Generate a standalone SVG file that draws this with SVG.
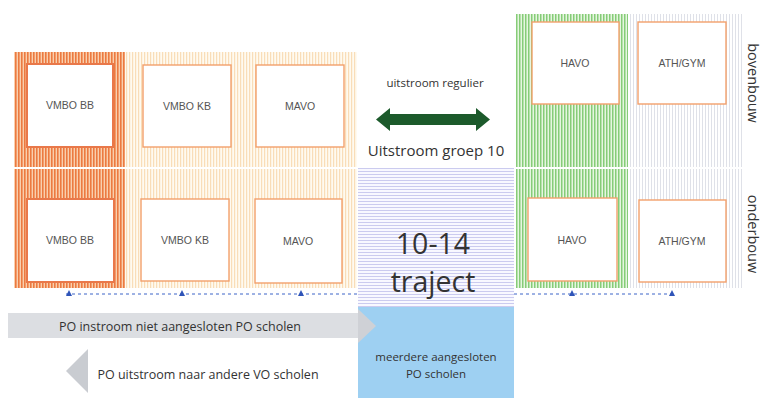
<svg xmlns="http://www.w3.org/2000/svg" width="764" height="398" viewBox="0 0 764 398">
<defs>
<pattern id="pDO" width="3" height="3" patternUnits="userSpaceOnUse"><rect width="3" height="3" fill="#f9cfae"/><rect width="1.6" height="3" fill="#ec7a40"/></pattern>
<pattern id="pLO" width="3" height="3" patternUnits="userSpaceOnUse"><rect width="3" height="3" fill="#fffaf0"/><rect width="1.2" height="3" fill="#f9ddb8"/></pattern>
<pattern id="pG" width="3" height="3" patternUnits="userSpaceOnUse"><rect width="3" height="3" fill="#e6f6e0"/><rect width="1.5" height="3" fill="#86cc78"/></pattern>
<pattern id="pGr" width="3" height="3" patternUnits="userSpaceOnUse"><rect width="3" height="3" fill="#ffffff"/><rect width="1" height="3" fill="#dfe1e8"/></pattern>
<pattern id="pB" width="3" height="3" patternUnits="userSpaceOnUse"><rect width="3" height="3" fill="#f8f8ff"/><rect width="3" height="1" fill="#cbcbef"/></pattern>
</defs>
<style>
.box{fill:#fff;stroke:#f2a06c;stroke-width:1.4}
.boxd{fill:#fff;stroke:#e9784a;stroke-width:2}
.lbl{font-family:"Liberation Sans",Arial,sans-serif;font-size:10.5px;fill:#555;text-anchor:middle}
.t{font-family:"Open Sans",sans-serif;fill:#333;text-anchor:middle}
.side{font-family:"Open Sans",sans-serif;font-size:14.5px;fill:#333;text-anchor:middle}
</style>
<rect width="764" height="398" fill="#fff"/>

<g id="bands">
<rect x="14" y="52" width="111" height="236" fill="url(#pDO)"/>
<rect x="125" y="52" width="232" height="236" fill="url(#pLO)"/>
<rect x="516" y="14" width="112" height="274" fill="url(#pG)"/>
<rect x="628" y="14" width="115" height="274" fill="url(#pGr)"/>
<rect x="14" y="167" width="343" height="2" fill="#fff"/>
<rect x="516" y="167" width="227" height="2" fill="#fff"/>
</g>

<g id="traject">
<rect x="358" y="168" width="156" height="139" fill="url(#pB)"/>
<text class="t" x="433" y="254" font-size="28.5">10-14</text>
<text class="t" x="433" y="292" font-size="28.5">traject</text>
</g>

<g id="aangesloten">
<rect x="358" y="307" width="156" height="91" fill="#9ed0f2"/>
<text class="t" x="436" y="361" font-size="11.5">meerdere aangesloten</text>
<text class="t" x="436" y="378" font-size="11.5">PO scholen</text>
</g>

<g id="vmbo-bb-boven"><rect class="boxd" x="27" y="64" width="86" height="83"/><text class="lbl" x="70" y="109">VMBO BB</text></g>
<g id="vmbo-kb-boven"><rect class="box" x="143" y="65" width="88" height="82"/><text class="lbl" x="187" y="110">VMBO KB</text></g>
<g id="mavo-boven"><rect class="box" x="256" y="65" width="88" height="82"/><text class="lbl" x="300" y="110">MAVO</text></g>
<g id="vmbo-bb-onder"><rect class="boxd" x="27" y="199" width="87" height="83"/><text class="lbl" x="70" y="244">VMBO BB</text></g>
<g id="vmbo-kb-onder"><rect class="box" x="141" y="199" width="88" height="82"/><text class="lbl" x="185" y="244">VMBO KB</text></g>
<g id="mavo-onder"><rect class="box" x="255" y="199" width="87" height="84"/><text class="lbl" x="298" y="245">MAVO</text></g>
<g id="havo-boven"><rect class="box" x="532" y="22" width="87" height="82"/><text class="lbl" x="575" y="67">HAVO</text></g>
<g id="ath-boven"><rect class="box" x="638" y="22" width="88" height="82"/><text class="lbl" x="682" y="67">ATH/GYM</text></g>
<g id="havo-onder"><rect class="box" x="528" y="198" width="89" height="83"/><text class="lbl" x="572" y="244">HAVO</text></g>
<g id="ath-onder"><rect class="box" x="639" y="200" width="87" height="82"/><text class="lbl" x="682" y="245">ATH/GYM</text></g>

<g id="labels">
<text class="t" x="435" y="87" font-size="11.5">uitstroom regulier</text>
<text class="t" x="436" y="156" font-size="15">Uitstroom groep 10</text>
<text class="side" transform="translate(748,83) rotate(90)">bovenbouw</text>
<text class="side" transform="translate(748,234) rotate(90)">onderbouw</text>
</g>

<g id="connectors">
<path d="M376,119.5 L390,108 L390,114 L476,114 L476,108 L490,119.5 L476,131 L476,125 L390,125 L390,131 Z" fill="#1c5a2b"/>
<path d="M66,294 H357 M514,294 H676" stroke="#3c64c8" stroke-width="1" stroke-dasharray="3,3" fill="none"/>
<g fill="#2f54b8">
<path d="M66,296 L69,290 L72,296 Z"/><path d="M179,296 L182,290 L185,296 Z"/><path d="M298,296 L301,290 L304,296 Z"/><path d="M569,296 L572,290 L575,296 Z"/><path d="M669,296 L672,290 L675,296 Z"/>
</g>
<rect x="8" y="313" width="350" height="25" fill="#dcdee2"/>
<path d="M358,309 L376,326 L358,343 Z" fill="#cfd1d6"/>
<path d="M66,371 L88,349 L88,393 Z" fill="#c9ccd1"/>
<text class="t" x="180" y="331" font-size="12.5">PO instroom  niet aangesloten PO scholen</text>
<text class="t" x="208" y="379" font-size="12.5">PO uitstroom naar andere VO scholen</text>
</g>
</svg>
